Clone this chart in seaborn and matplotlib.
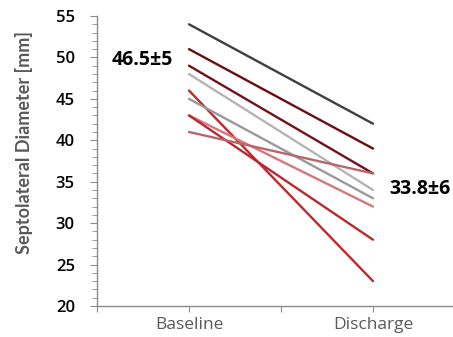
import matplotlib
matplotlib.use('Agg')
import matplotlib.pyplot as plt
from matplotlib.ticker import MultipleLocator, FixedLocator
import numpy as np
import pandas as pd
import seaborn as sns

# paired measurements per patient
timepoints = ['Baseline', 'Discharge']
baseline = [54, 51, 49, 48, 46, 45, 43, 43, 41]
discharge = [42, 39, 36, 34, 23, 33, 32, 28, 36]
line_colors = ['#3f3f3f', '#6a0d12', '#72111a', '#b4b4b4', '#c1272d',
               '#9a9a9a', '#d7767d', '#b8282e', '#b8666b']
baseline_label = '46.5\u00b15'
discharge_label = '33.8\u00b16'

rows = []
for i, (b, d) in enumerate(zip(baseline, discharge)):
    rows.append({'patient': i, 'time': timepoints[0], 'diam': b})
    rows.append({'patient': i, 'time': timepoints[1], 'diam': d})
df = pd.DataFrame(rows)

sns.set_style('white')
plt.rcParams['font.family'] = ['Open Sans', 'DejaVu Sans']

fig = plt.figure(figsize=(4.53, 3.37), dpi=100)
ax = fig.add_axes([97 / 453, 1 - 306 / 337, 368 / 453, 290 / 337])

sns.lineplot(data=df, x='time', y='diam', hue='patient',
             palette=dict(enumerate(line_colors)), sort=False,
             legend=False, linewidth=1.7, ax=ax)

ax.set_xlim(-0.5, 1.5)
ax.set_ylim(20, 55)
ax.xaxis.set_major_locator(FixedLocator([-0.5, 0, 0.5, 1, 1.5]))
ax.set_xticklabels(['', 'Baseline', '', 'Discharge', ''])
ax.yaxis.set_major_locator(MultipleLocator(5))
ax.yaxis.set_minor_locator(MultipleLocator(1))

spine_col = '#8c8c8c'
for s in ['top', 'right']:
    ax.spines[s].set_visible(False)
for s in ['left', 'bottom']:
    ax.spines[s].set_color(spine_col)
    ax.spines[s].set_linewidth(1)

ax.tick_params(axis='y', which='major', direction='out', length=5,
               color=spine_col, pad=11, labelsize=12, labelcolor='#000000', left=True)
ax.tick_params(axis='y', which='minor', direction='out', length=3.5,
               color=spine_col, left=True)
ax.tick_params(axis='x', which='major', direction='out', length=4,
               color=spine_col, pad=4, labelsize=12.5, labelcolor='#595959', bottom=True)
for lbl in ax.get_yticklabels():
    lbl.set_fontweight('semibold')

ax.set_xlabel('')
ax.set_ylabel('Septolateral Diameter [mm]', fontsize=13, fontweight='bold',
              color='#595959', family=['Lato', 'DejaVu Sans'])
ax.yaxis.set_label_coords(33 / 453, 1 - 142 / 337, transform=fig.transFigure)

ax.text(-0.255, 49.7, baseline_label, ha='center', va='center',
        fontsize=14, fontweight='bold', color='black')
fig.text(451 / 453, 1 - 189 / 337, discharge_label, ha='right', va='center',
         fontsize=14, fontweight='bold', color='black')

fig.savefig('out.png', dpi=100)
